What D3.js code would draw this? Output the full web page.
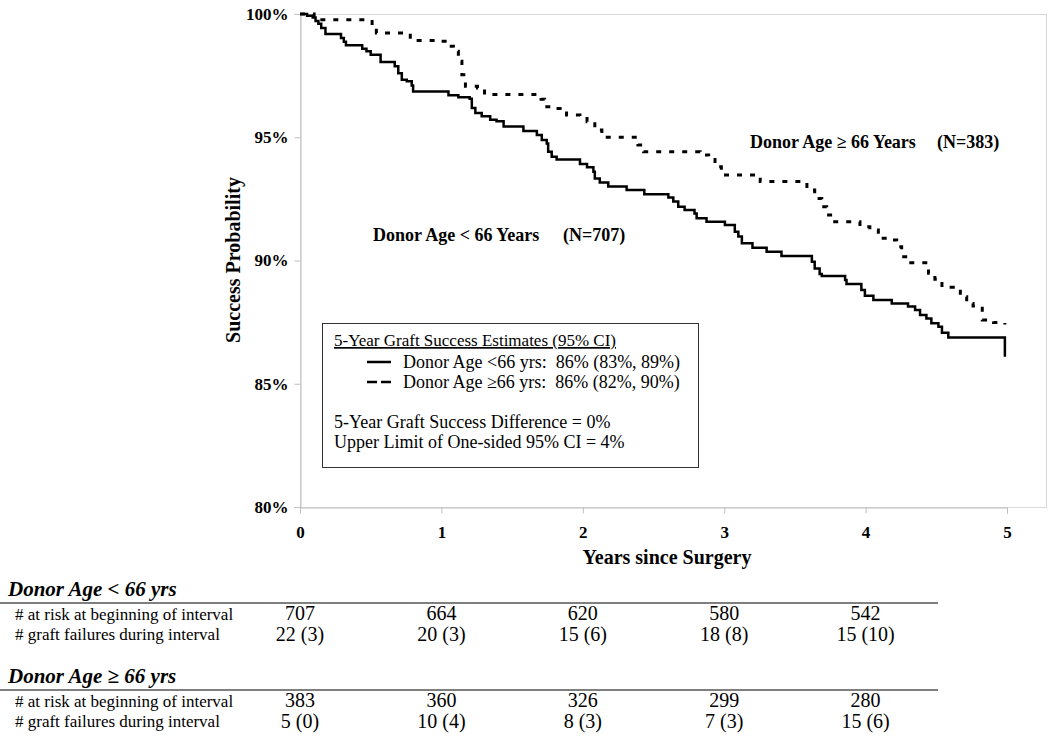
<!DOCTYPE html>
<html>
<head>
<meta charset="utf-8">
<script src="https://cdn.jsdelivr.net/npm/d3@7"></script>
<style>
	body { margin: 0; background: #fff; }
	svg { display: block; font-family: "Liberation Serif", "Times New Roman", serif; }
	text { white-space: pre; }
</style>
</head>
<body>
<svg width="1050" height="744"></svg>
<script>
var yearTicks = [0, 1, 2, 3, 4, 5],
	pctTicks = [80, 85, 90, 95, 100];

// Kaplan-Meier steps: time (years), success (%)
var youngT = [0, 0.05, 0.09, 0.11, 0.13, 0.15, 0.18, 0.29, 0.31, 0.325, 0.44, 0.47, 0.50, 0.57, 0.67, 0.695, 0.72, 0.755, 0.79, 0.80,
		1.05, 1.12, 1.20, 1.215, 1.24, 1.285, 1.345, 1.39, 1.44, 1.58, 1.675, 1.71, 1.745, 1.755, 1.78, 1.815, 1.98,
		2.03, 2.075, 2.085, 2.12, 2.18, 2.31, 2.435, 2.605, 2.64, 2.675, 2.72, 2.79, 2.805, 2.875,
		3.005, 3.075, 3.10, 3.125, 3.20, 3.30, 3.405, 3.62, 3.64, 3.675, 3.69, 3.855, 3.865, 3.97, 3.995,
		4.055, 4.185, 4.30, 4.35, 4.385, 4.43, 4.465, 4.515, 4.54, 4.585, 4.985],
	youngS = [100, 99.93, 99.86, 99.72, 99.6, 99.43, 99.19, 99.03, 98.87, 98.73, 98.59, 98.49, 98.35, 98.05, 97.88, 97.6, 97.33, 97.27, 97.1, 96.86,
		96.7, 96.62, 96.56, 96.19, 95.98, 95.85, 95.71, 95.65, 95.44, 95.25, 95.09, 94.89, 94.75, 94.41, 94.21, 94.1, 93.91,
		93.78, 93.6, 93.33, 93.16, 93.0, 92.86, 92.69, 92.56, 92.39, 92.18, 92.05, 91.91, 91.71, 91.57,
		91.44, 91.17, 90.97, 90.7, 90.52, 90.36, 90.18, 89.95, 89.68, 89.45, 89.37, 89.21, 89.05, 88.8, 88.57,
		88.4, 88.26, 88.13, 87.99, 87.79, 87.65, 87.45, 87.31, 87.07, 86.88, 86.1];

var oldT = [0, 0.10, 0.12, 0.51, 0.54, 0.78, 0.98, 1.04, 1.085, 1.12, 1.145, 1.17, 1.255, 1.305, 1.705, 1.73, 1.825, 1.885, 1.98,
		2.03, 2.085, 2.135, 2.39, 2.43, 2.83, 2.89, 2.935, 2.98, 3.255, 3.585, 3.64, 3.69, 3.725, 3.77, 3.96,
		4.03, 4.09, 4.16, 4.22, 4.255, 4.30, 4.445, 4.49, 4.54, 4.62, 4.67, 4.715, 4.76, 4.825, 4.905, 4.985],
	oldS = [100, 99.9, 99.77, 99.5, 99.23, 98.93, 98.89, 98.69, 98.49, 98.08, 97.54, 97.07, 97.0, 96.73, 96.54, 96.24, 96.17, 95.9, 95.86,
		95.63, 95.29, 95.0, 94.69, 94.41, 94.28, 94.1, 93.8, 93.47, 93.2, 92.86, 92.52, 92.18, 91.85, 91.57, 91.37,
		91.24, 90.9, 90.83, 90.56, 90.15, 89.91, 89.48, 89.24, 88.91, 88.83, 88.53, 88.26, 88.15, 87.59, 87.48, 87.4];

// numbers at risk table
var youngAtRisk = ["707", "664", "620", "580", "542"],
	youngFail = ["22 (3)", "20 (3)", "15 (6)", "18 (8)", "15 (10)"],
	oldAtRisk = ["383", "360", "326", "299", "280"],
	oldFail = ["5 (0)", "10 (4)", "8 (3)", "7 (3)", "15 (6)"];

var svg = d3.select("svg"),
	x = d3.scaleLinear().domain([0, 5]).range([300, 1007]),
	y = d3.scaleLinear().domain([80, 100]).range([507, 14]);

// plot frame
svg.append("rect")
	.attr("x", 300.5).attr("y", 14.5)
	.attr("width", 746).attr("height", 493)
	.attr("fill", "none")
	.attr("stroke", "#d9d9d9");

var yAxis = svg.append("g")
	.attr("transform", "translate(300.5,0)")
	.call(d3.axisLeft(y).tickValues(pctTicks).tickSize(6).tickPadding(6)
		.tickFormat(function(d){ return d + "%"; }));

var xAxis = svg.append("g")
	.attr("transform", "translate(0,507.5)")
	.call(d3.axisBottom(x).tickValues(yearTicks).tickSize(6).tickPadding(12)
		.tickFormat(d3.format("d")));

[yAxis, xAxis].forEach(function(a){
	a.selectAll("path, line").attr("stroke", "#bfbfbf");
	a.selectAll("text")
		.style("font-family", "Liberation Serif")
		.style("font-weight", "bold")
		.style("font-size", "17px")
		.attr("fill", "#000");
});

svg.append("text")
	.attr("transform", "translate(240,260) rotate(-90)")
	.attr("text-anchor", "middle")
	.style("font-weight", "bold")
	.style("font-size", "20px")
	.text("Success Probability");

svg.append("text")
	.attr("x", 667).attr("y", 564)
	.attr("text-anchor", "middle")
	.style("font-weight", "bold")
	.style("font-size", "20px")
	.text("Years since Surgery");

// curves
var line = d3.line()
	.x(function(d){ return x(d[0]); })
	.y(function(d){ return y(d[1]); })
	.curve(d3.curveStepAfter);

svg.append("path")
	.datum(d3.zip(oldT, oldS))
	.attr("d", line)
	.attr("fill", "none")
	.attr("stroke", "#000")
	.attr("stroke-width", 3)
	.attr("stroke-dasharray", "5,8");

svg.append("path")
	.datum(d3.zip(youngT, youngS))
	.attr("d", line)
	.attr("fill", "none")
	.attr("stroke", "#000")
	.attr("stroke-width", 2.5);

// curve labels
var lbl = svg.append("g")
	.style("font-weight", "bold")
	.style("font-size", "18px");
lbl.append("text").attr("x", 750).attr("y", 148).text("Donor Age \u2265 66 Years");
lbl.append("text").attr("x", 937).attr("y", 148).text("(N=383)");
lbl.append("text").attr("x", 373).attr("y", 241).text("Donor Age < 66 Years");
lbl.append("text").attr("x", 563).attr("y", 241).text("(N=707)");

// legend box
var leg = svg.append("g").style("font-size", "18px");
leg.append("rect")
	.attr("x", 322.5).attr("y", 323.5)
	.attr("width", 376).attr("height", 144)
	.attr("fill", "#fff")
	.attr("stroke", "#333");
leg.append("text").attr("x", 334).attr("y", 346)
	.style("font-size", "17px")
	.style("text-decoration", "underline")
	.text("5-Year Graft Success Estimates (95% CI)");
leg.append("line").attr("x1", 367).attr("x2", 391).attr("y1", 362).attr("y2", 362)
	.attr("stroke", "#000").attr("stroke-width", 2.5);
leg.append("text").attr("x", 403).attr("y", 368).text("Donor Age <66 yrs:  86% (83%, 89%)");
leg.append("line").attr("x1", 367).attr("x2", 391).attr("y1", 382).attr("y2", 382)
	.attr("stroke", "#000").attr("stroke-width", 2.5).attr("stroke-dasharray", "10,4");
leg.append("text").attr("x", 403).attr("y", 388).text("Donor Age \u226566 yrs:  86% (82%, 90%)");
leg.append("text").attr("x", 334).attr("y", 428).text("5-Year Graft Success Difference = 0%");
leg.append("text").attr("x", 334).attr("y", 448).text("Upper Limit of One-sided 95% CI = 4%");

// at-risk table
function group(top, title, atRisk, fail) {
	var g = svg.append("g");
	g.append("text")
		.attr("x", 8).attr("y", top)
		.style("font-weight", "bold")
		.style("font-style", "italic")
		.style("font-size", "21px")
		.text(title);
	g.append("line")
		.attr("x1", 0).attr("x2", 938)
		.attr("y1", top + 7).attr("y2", top + 7)
		.attr("stroke", "#555").attr("stroke-width", 1.5);
	g.append("text").attr("x", 15).attr("y", top + 24)
		.style("font-size", "17px").text("# at risk at beginning of interval");
	g.append("text").attr("x", 15).attr("y", top + 44)
		.style("font-size", "17px").text("# graft failures during interval");
	g.selectAll(".risk").data(atRisk).enter().append("text")
		.attr("x", function(d, i){ return x(i); })
		.attr("y", top + 24)
		.attr("text-anchor", "middle")
		.style("font-size", "20px")
		.text(function(d){ return d; });
	g.selectAll(".fail").data(fail).enter().append("text")
		.attr("x", function(d, i){ return x(i); })
		.attr("y", top + 45)
		.attr("text-anchor", "middle")
		.style("font-size", "20px")
		.text(function(d){ return d; });
}

group(596, "Donor Age < 66 yrs", youngAtRisk, youngFail);
group(683, "Donor Age \u2265 66 yrs", oldAtRisk, oldFail);
</script>
</body>
</html>
